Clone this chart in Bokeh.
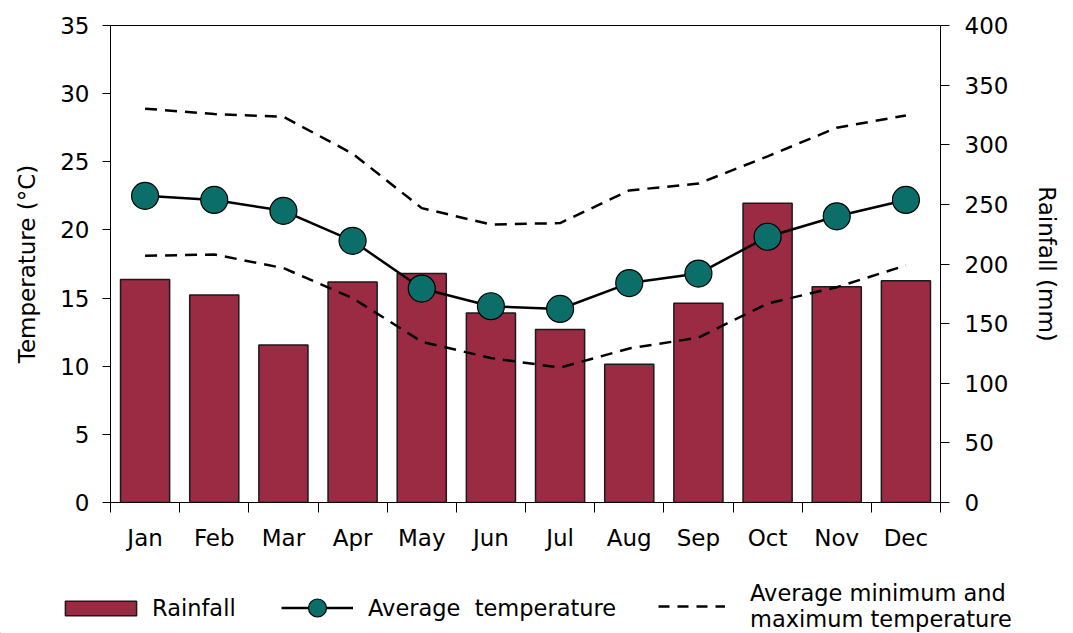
from bokeh.plotting import figure
from bokeh.layouts import column, row
from bokeh.models import (Range1d, LinearAxis, FixedTicker, Legend, LegendItem,
                          ColumnDataSource)
from bokeh.embed import file_html
from bokeh.resources import INLINE

months = ["Jan", "Feb", "Mar", "Apr", "May", "Jun",
          "Jul", "Aug", "Sep", "Oct", "Nov", "Dec"]
rainfall = [187, 174, 132, 185, 192, 159, 145, 116, 167, 251, 181, 186]
avg_temp = [22.5, 22.2, 21.4, 19.2, 15.7, 14.4, 14.2, 16.1, 16.8, 19.5, 21.0, 22.2]
max_temp = [28.9, 28.5, 28.3, 25.6, 21.6, 20.4, 20.5, 22.9, 23.4, 25.4, 27.5, 28.4]
min_temp = [18.1, 18.2, 17.2, 15.0, 11.8, 10.6, 9.9, 11.3, 12.1, 14.6, 15.8, 17.4]
temp_ticks = [0, 5, 10, 15, 20, 25, 30, 35]
rain_ticks = [0, 50, 100, 150, 200, 250, 300, 350, 400]

BAR = "#9b2a43"
TEAL = "#0b6e69"
FONT = "DejaVu Sans"
FS = "23px"
LFS = "22.5px"
DASH = "12 8"
W = 1063

xpos = [i + 0.5 for i in range(len(months))]
src = ColumnDataSource(dict(x=xpos, rain=rainfall, avg=avg_temp,
                            tmax=max_temp, tmin=min_temp))

p = figure(width=W, height=560, output_backend="svg", toolbar_location=None,
           x_range=Range1d(0, 12), y_range=Range1d(0, 35),
           min_border_left=110, min_border_right=120, min_border_top=25,
           min_border_bottom=58, x_axis_location=None, y_axis_location=None)
p.extra_y_ranges = {"rain": Range1d(0, 400)}
p.grid.visible = False
p.outline_line_color = "black"
p.outline_line_width = 1

ya = LinearAxis(ticker=FixedTicker(ticks=temp_ticks, minor_ticks=[]),
                axis_label="Temperature (°C)")
yr = LinearAxis(y_range_name="rain", ticker=FixedTicker(ticks=rain_ticks, minor_ticks=[]),
                axis_label="Rainfall (mm)")
xa = LinearAxis(ticker=FixedTicker(ticks=xpos, minor_ticks=list(range(13))),
                major_label_overrides={x: m for x, m in zip(xpos, months)})

for ax in (ya, yr, xa):
    ax.axis_line_color = "black"
    ax.axis_line_width = 1
    ax.major_tick_line_color = "black"
    ax.minor_tick_line_color = "black"
    ax.major_label_text_font = FONT
    ax.major_label_text_font_size = FS
    ax.major_label_text_color = "black"
    ax.axis_label_text_font = FONT
    ax.axis_label_text_font_size = FS
    ax.axis_label_text_font_style = "normal"
    ax.axis_label_text_color = "black"

ya.major_tick_in = 0
ya.major_tick_out = 8
ya.major_label_standoff = 13
ya.axis_label_standoff = 17
yr.major_tick_in = 0
yr.major_tick_out = 9
yr.major_label_standoff = 15
yr.axis_label_standoff = 23
xa.major_tick_in = 0
xa.major_tick_out = 0
xa.minor_tick_in = 0
xa.minor_tick_out = 10
xa.major_label_standoff = 12

p.add_layout(ya, "left")
p.add_layout(yr, "right")
p.add_layout(xa, "below")

p.vbar(x="x", top="rain", width=0.71, source=src, y_range_name="rain",
       fill_color=BAR, line_color="#1a1a1a", line_width=1.5)
p.line(x="x", y="tmax", source=src, line_color="black", line_width=2.5, line_dash=DASH)
p.line(x="x", y="tmin", source=src, line_color="black", line_width=2.5, line_dash=DASH)
p.line(x="x", y="avg", source=src, line_color="black", line_width=2.5)
p.scatter(x="x", y="avg", source=src, size=27, fill_color=TEAL,
          line_color="black", line_width=1.2)

# legend strip below the chart (its renderers sit outside the visible range)
lf = figure(width=W, height=73, output_backend="svg", toolbar_location=None,
            x_range=Range1d(0, 1), y_range=Range1d(0, 1),
            min_border=0, x_axis_location=None, y_axis_location=None)
lf.grid.visible = False
lf.outline_line_color = None
hidden = ColumnDataSource(dict(x=[-5, -6], y=[-5, -6], top=[-5, -6]))
r_bar = lf.vbar(x="x", top="top", width=0.7, source=hidden,
                fill_color=BAR, line_color="#1a1a1a", line_width=1.5)
r_line = lf.line(x="x", y="y", source=hidden, line_color="black", line_width=2.5)
r_mark = lf.scatter(x="x", y="y", source=hidden, fill_color=TEAL,
                    line_color="black", line_width=1.2)
r_dash = lf.line(x="x", y="y", source=hidden, line_color="black", line_width=2.5,
                 line_dash="11 8")


def mk_legend(items, loc, gw, gh, standoff):
    lg = Legend(items=items, location=loc, orientation="horizontal",
                glyph_width=gw, glyph_height=gh, label_standoff=standoff,
                padding=0, margin=0, spacing=0,
                border_line_alpha=0, background_fill_alpha=0,
                label_text_font=FONT, label_text_font_size=LFS,
                label_text_color="black", label_text_line_height=1.27)
    lf.add_layout(lg, "center")
    return lg


mk_legend([LegendItem(label="Rainfall", renderers=[r_bar])], (56, 12), 89, 18, 7)
mk_legend([LegendItem(label="Average  temperature", renderers=[r_line, r_mark])],
          (281, 3), 72, 45, 15)
mk_legend([LegendItem(label="Average minimum and\nmaximum temperature", renderers=[r_dash])],
          (658, 1), 67, 20, 25)

open("out.html", "w").write(file_html(column(p, row(lf), spacing=0), INLINE))
